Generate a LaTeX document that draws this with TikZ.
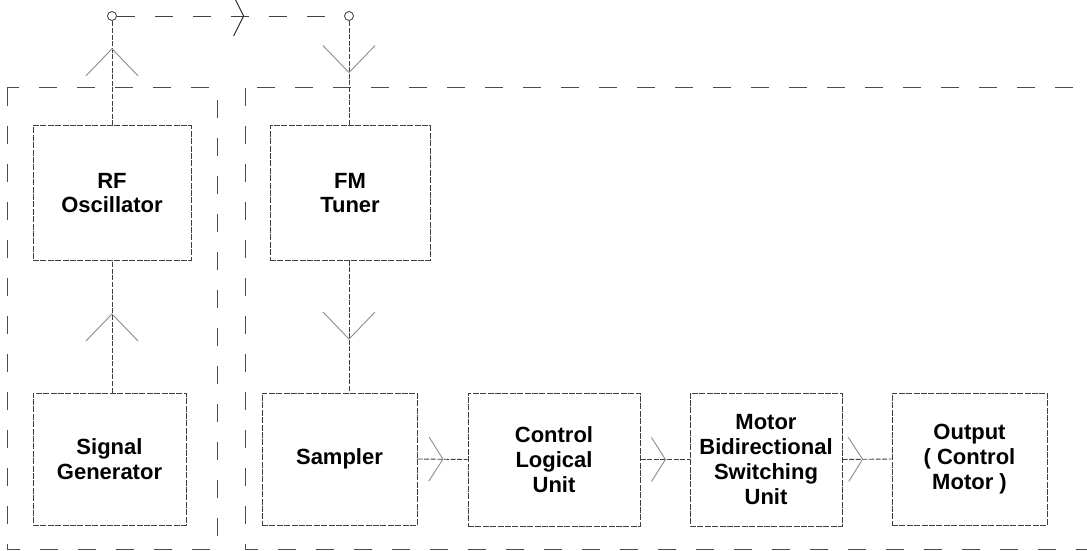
\documentclass[tikz,border=0pt]{standalone}
\usepackage{fontspec}
\setmainfont{Liberation Sans}
\usetikzlibrary{arrows.meta,decorations.markings,calc}
\begin{document}
\begin{tikzpicture}[x=0.5pt,y=-0.5pt,
 blk/.style={draw=black!75, line width=0.5pt, dash pattern=on 3pt off 0.7pt, rectangle, inner sep=0pt, align=center, font=\fontsize{11}{12.4}\selectfont\bfseries},
 encl/.style={draw=black!70, line width=0.5pt, dash pattern=on 9pt off 10pt},
 conn/.style={draw=black!75, line width=0.45pt, dash pattern=on 2.5pt off 0.8pt},
 ant/.style={circle, draw=black!70, line width=0.45pt, minimum size=4.5pt, inner sep=0pt},
 midv/.style={postaction={decorate}, decoration={markings, mark=at position #1 with {\arrow[black!45, line width=0.45pt]{Straight Barb[length=13.5pt,width=26pt]}}}},
 midh/.style={postaction={decorate}, decoration={markings, mark=at position #1 with {\arrow[black!45, line width=0.45pt]{Straight Barb[length=7pt,width=22pt]}}}},
 midt/.style={postaction={decorate}, decoration={markings, mark=at position #1 with {\arrow[black!80, line width=0.45pt]{Straight Barb[length=5pt,width=20pt]}}}}
]
\useasboundingbox (0,0) rectangle (1087,551);
\clip (0,0) rectangle (1087,551);
% enclosures
\draw[encl] (7,88) rectangle (217,549);
\draw[encl] (245,88) rectangle (1110,549);
% blocks
\node[blk, minimum width=79pt, minimum height=67pt] (rf) at (112,193) {RF\\Oscillator};
\node[blk, minimum width=80pt, minimum height=67pt] (fm) at (350,193) {FM\\Tuner};
\node[blk, minimum width=76.5pt, minimum height=66pt] (sg) at (109.5,459) {Signal\\Generator};
\node[blk, minimum width=77.5pt, minimum height=66pt] (sa) at (339.5,459) {Sampler};
\node[blk, minimum width=86pt, minimum height=66.5pt] (cl) at (554,459.5) {Control\\Logical\\Unit};
\node[blk, minimum width=76pt, minimum height=66.5pt] (mb) at (766,459.5) {Motor\\Bidirectional\\Switching\\Unit};
\node[blk, minimum width=77.5pt, minimum height=66pt] (out) at (969.5,459) {Output\\( Control\\Motor )};
% antennas
\node[ant] (a1) at (112,16) {};
\node[ant] (a2) at (349,16) {};
% connectors
\draw[conn, dash pattern=on 9pt off 10pt, midt=0.56] (a1.east) -- (a2.west);
\draw[conn, midv=0.74] (rf.north) -- (a1.south);
\draw[conn, midv=0.5] (a2.south) -- (a2.south |- fm.north);
\draw[conn, midv=0.6] (sg.north -| rf.south) -- (rf.south);
\draw[conn, midv=0.6] (fm.south -| a2.south) -- (a2.south |- sa.north);
\draw[conn, midh=0.52] (sa.east) -- (cl.west);
\draw[conn, midh=0.52] (cl.east) -- (mb.west);
\draw[conn, midh=0.42] (mb.east) -- (out.west);
\end{tikzpicture}
\end{document}
